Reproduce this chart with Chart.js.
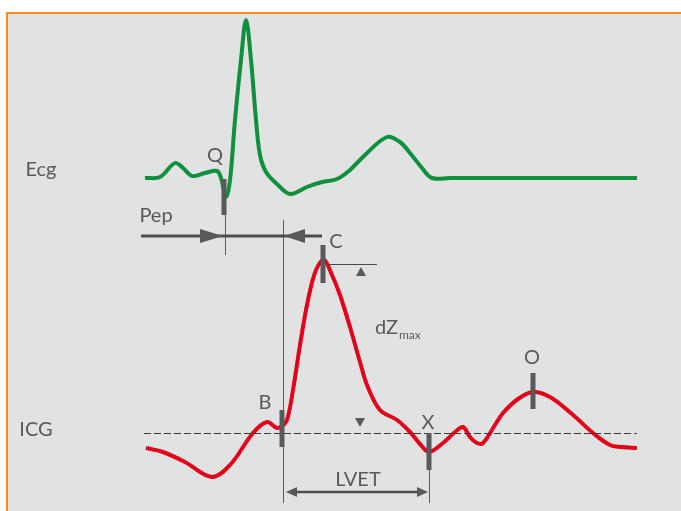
<!DOCTYPE html>
<html>
<head>
<meta charset="utf-8">
<script src="https://cdn.jsdelivr.net/npm/chart.js@4"></script>
<style>
  body { margin: 0; background: #ffffff; }
  #frame {
    position: absolute; left: 6px; top: 12px; width: 675px; height: 499px;
    background: #e1e3e2; border-top: 2px solid #f68b1f; border-left: 2px solid #f68b1f;
    box-sizing: border-box;
  }
  #wrap { position: absolute; left: 0; top: 0; width: 681px; height: 511px; }
</style>
</head>
<body>
<div id="frame"></div>
<div id="wrap"><canvas id="chart"></canvas></div>
<script>
// ECG trace (time, amplitude)
const ecgX = [145, 160, 175, 183, 192, 205, 217, 221, 226, 230, 235, 241, 246, 251, 256, 260, 266, 277, 290, 307, 322, 337, 350, 365, 387, 400, 410, 422, 432, 450, 637];
const ecgY = [178, 177, 163, 168, 176, 173, 171, 178, 197, 180, 120, 60, 20, 60, 120, 155, 172, 184, 194, 187, 182, 179, 170, 155, 137, 142, 153, 168, 178, 178, 178];

// ICG trace
const icgX = [146, 163, 185, 212, 230, 253, 267, 277, 282, 287, 293, 300, 308, 316, 324, 332, 340, 350, 360, 367, 380, 397, 410, 420, 429, 443, 455, 463, 470, 477, 483, 495, 503, 518, 533, 550, 572, 593, 610, 622, 637];
const icgY = [448, 452, 462, 477, 465, 433, 422, 428, 426, 420, 390, 345, 300, 270, 260, 275, 295, 327, 362, 385, 410, 420, 432, 444, 452, 443, 432, 427, 437, 443, 443, 425, 413, 399, 392, 397, 414, 433, 445, 447, 448];

// event markers: name, x, top, bottom
const markerNames = ["Q", "C", "B", "X", "O"];
const markerX = [224, 323, 282, 429, 533];
const markerTop = [179, 245, 410, 433, 373];
const markerBottom = [215, 283, 447, 470, 409];

// labels
const labelText = ["Ecg", "ICG", "Q", "Pep", "C", "B", "X", "O", "LVET"];
const labelX = [41, 36, 215, 156, 336, 265, 428, 532, 358];
const labelY = [170, 430, 156, 216, 242, 403, 423, 358, 480];

const baselineY = 433.5;
const baselineFrom = 144, baselineTo = 637;

const ctx = document.getElementById("chart").getContext("2d");

function seg(xs, ys) {
    return xs.map((x, i) => ({ x: x, y: ys[i] }));
}

// extra drawing on top of the traces
const annotations = {
    id: "annotations",
    afterDatasetsDraw(chart) {
        const c = chart.ctx;
        const sx = chart.scales.x, sy = chart.scales.y;
        const px = (v) => sx.getPixelForValue(v);
        const py = (v) => sy.getPixelForValue(v);
        const gray = "#58595b";

        function line(x1, y1, x2, y2, w, color, dash) {
            c.save();
            c.strokeStyle = color;
            c.lineWidth = w;
            c.setLineDash(dash || []);
            c.beginPath();
            c.moveTo(px(x1), py(y1));
            c.lineTo(px(x2), py(y2));
            c.stroke();
            c.restore();
        }
        function tri(pts) {
            c.save();
            c.fillStyle = gray;
            c.beginPath();
            c.moveTo(px(pts[0]), py(pts[1]));
            c.lineTo(px(pts[2]), py(pts[3]));
            c.lineTo(px(pts[4]), py(pts[5]));
            c.closePath();
            c.fill();
            c.restore();
        }

        // baseline
        line(baselineFrom, baselineY, baselineTo, baselineY, 1, "#3a3a3a", [7, 3]);

        // thin guide lines
        line(225.5, 215, 225.5, 255, 1, "#5a5b5d");
        line(283.5, 220, 283.5, 503, 1, "#5a5b5d");
        line(429.5, 470, 429.5, 503, 1, "#5a5b5d");
        line(327, 264.5, 377, 264.5, 1, "#4a4a4c");

        // Pep arrow
        line(141, 236, 322, 236, 3, "#4d4d4f");
        tri([200, 229, 223, 236, 200, 243]);
        tri([305, 229, 284, 236, 305, 243]);

        // LVET arrow
        line(290, 492, 424, 492, 2.5, "#4d4d4f");
        tri([297, 487, 286, 492, 297, 497]);
        tri([417, 487, 428, 492, 417, 497]);

        // dZmax triangles
        tri([356, 276, 361, 267, 366, 276]);
        tri([355, 418, 360, 427, 365, 418]);

        // markers
        markerX.forEach((x, i) => line(x, markerTop[i], x, markerBottom[i], 5, gray));

        // labels
        c.save();
        c.fillStyle = gray;
        c.textAlign = "center";
        c.textBaseline = "middle";
        c.font = "20px Lato, sans-serif";
        labelText.forEach((t, i) => c.fillText(t, px(labelX[i]), py(labelY[i])));
        c.textAlign = "left";
        c.fillText("dZ", px(375), py(328));
        c.font = "12px Lato, sans-serif";
        c.fillText("max", px(399), py(335));
        c.restore();
    }
};

new Chart(ctx, {
    type: "line",
    data: {
        datasets: [
            {
                label: "ECG",
                data: seg(ecgX, ecgY),
                borderColor: "#0e903c",
                borderWidth: 4,
                pointRadius: 0,
                tension: 0.35,
                fill: false,
            },
            {
                label: "ICG",
                data: seg(icgX, icgY),
                borderColor: "#e2001a",
                borderWidth: 4,
                pointRadius: 0,
                tension: 0.35,
                fill: false,
            },
        ],
    },
    options: {
        responsive: true,
        maintainAspectRatio: false,
        animation: false,
        layout: { padding: 0 },
        plugins: { legend: { display: false }, tooltip: { enabled: false } },
        scales: {
            x: { type: "linear", min: 0, max: 681, display: false },
            y: { type: "linear", min: 0, max: 511, reverse: true, display: false },
        },
    },
    plugins: [annotations],
});
</script>
</body>
</html>
